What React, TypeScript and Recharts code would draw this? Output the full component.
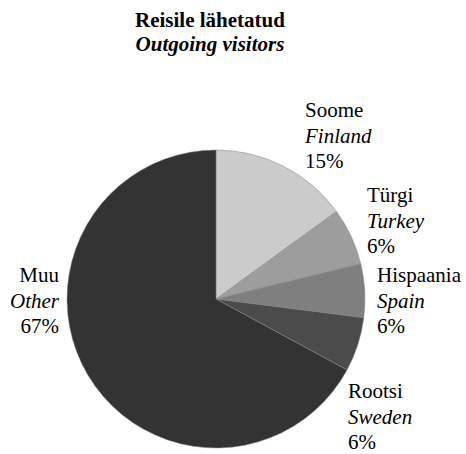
import React from "react";
import { PieChart, Pie, Cell } from "recharts";

const categoriesEt = ["Soome", "Türgi", "Hispaania", "Rootsi", "Muu"];
const categoriesEn = ["Finland", "Turkey", "Spain", "Sweden", "Other"];
const shares = [15.0, 6.2, 5.8, 5.9, 67.1];
const colors = ["#cbcbcb", "#9d9d9d", "#7f7f7f", "#4b4b4b", "#333333"];
// label anchor offsets from pie centre (first baseline), and text anchor
const labelOffsets = [
  { dx: 89, dy: -182, anchor: "start" },
  { dx: 151, dy: -97, anchor: "start" },
  { dx: 161, dy: -17, anchor: "start" },
  { dx: 132, dy: 99, anchor: "start" },
  { dx: -157, dy: -17, anchor: "end" },
];
const titleLines = ["Reisile lähetatud", "Outgoing visitors"];

const data = categoriesEt.map((et, i) => ({
  name: et,
  en: categoriesEn[i],
  value: shares[i],
}));

const FONT = "Liberation Serif";
const LINE = 25.5;

const renderLabel = (props: any) => {
  const { cx, cy, index, value } = props;
  const o = labelOffsets[index];
  const x = cx + o.dx;
  const y = cy + o.dy;
  const lines = [data[index].name, data[index].en, `${Math.round(value)}%`];
  return (
    <g key={`lbl-${index}`} fontFamily={FONT} fontSize={21}>
      {lines.map((t, k) => (
        <text
          key={k}
          x={x}
          y={y + k * LINE}
          textAnchor={o.anchor}
          fontFamily={FONT}
          fontSize={21}
          fontStyle={k === 1 ? "italic" : "normal"}
          fill="#000"
          stroke="none"
        >
          {t}
        </text>
      ))}
    </g>
  );
};

export default function App() {
  return (
    <div style={{ position: "absolute", left: 0, top: 0, width: 466, height: 454, background: "#fff" }}>
      <svg
        width={466}
        height={60}
        style={{ position: "absolute", left: 0, top: 0, pointerEvents: "none" }}
      >
        <text x={210} y={27} textAnchor="middle" fontFamily={FONT} fontSize={21} fontWeight="bold">
          {titleLines[0]}
        </text>
        <text x={210} y={51} textAnchor="middle" fontFamily={FONT} fontSize={21} fontWeight="bold" fontStyle="italic">
          {titleLines[1]}
        </text>
      </svg>
      <PieChart width={466} height={454} margin={{ top: 0, right: 0, bottom: 0, left: 0 }}>
        <Pie
          data={data}
          dataKey="value"
          nameKey="name"
          cx={216}
          cy={299}
          outerRadius={149}
          startAngle={90}
          endAngle={-270}
          stroke="#8a8a8a"
          strokeWidth={0.5}
          label={renderLabel}
          labelLine={false}
          isAnimationActive={false}
        >
          {data.map((d, i) => (
            <Cell key={d.name} fill={colors[i]} />
          ))}
        </Pie>
      </PieChart>
    </div>
  );
}
